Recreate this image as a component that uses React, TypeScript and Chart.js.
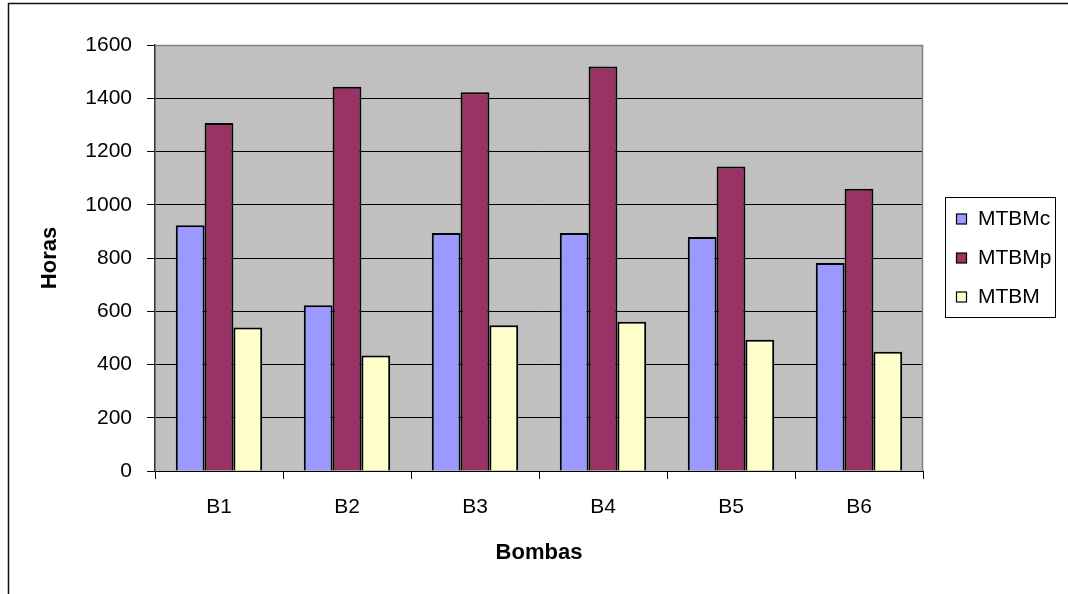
import { useEffect, useRef } from "react";
import { Chart, registerables } from "chart.js";

Chart.register(...registerables);

// Categories (pumps) and the three series in hours
const categories = ["B1", "B2", "B3", "B4", "B5", "B6"];
const mtbmc = [923, 623, 894, 894, 879, 781];
const mtbmp = [1307, 1443, 1423, 1519, 1144, 1060];
const mtbm = [539, 434, 547, 561, 493, 448];
const seriesNames = ["MTBMc", "MTBMp", "MTBM"];
const seriesColors = ["#9999FF", "#993366", "#FFFFCC"];

const yMin = 0;
const yMax = 1600;
const yStep = 200;

const FONT = "'Liberation Sans', Arial, sans-serif";
const TICK_SIZE = 21;
const TITLE_SIZE = 22;

// Gray plot area, its top/right edge and the outer frame
const plotFrame = {
  id: "plotFrame",
  beforeDraw(chart: any) {
    const { ctx, chartArea, width } = chart;
    ctx.save();
    ctx.fillStyle = "#FFFFFF";
    ctx.fillRect(0, 0, chart.width, chart.height);
    ctx.fillStyle = "#C0C0C0";
    ctx.fillRect(chartArea.left, chartArea.top, chartArea.right - chartArea.left, chartArea.bottom - chartArea.top);
    // outer frame: left and top edges
    ctx.strokeStyle = "#111111";
    ctx.lineWidth = 1.5;
    ctx.beginPath();
    ctx.moveTo(8.5, chart.height + 10);
    ctx.lineTo(8.5, 3.5);
    ctx.lineTo(width + 10, 3.5);
    ctx.stroke();
    ctx.restore();
  },
  beforeDatasetsDraw(chart: any) {
    const { ctx, chartArea } = chart;
    ctx.save();
    ctx.strokeStyle = "#808080";
    ctx.lineWidth = 1.5;
    ctx.beginPath();
    ctx.moveTo(chartArea.left, chartArea.top + 0.5);
    ctx.lineTo(chartArea.right - 0.5, chartArea.top + 0.5);
    ctx.lineTo(chartArea.right - 0.5, chartArea.bottom);
    ctx.stroke();
    ctx.restore();
  },
};

// Boxed legend on the right side
const boxLegend = {
  id: "boxLegend",
  afterDraw(chart: any) {
    const { ctx } = chart;
    const x0 = 945;
    const y0 = 197;
    const w = 110;
    const h = 120;
    ctx.save();
    ctx.fillStyle = "#FFFFFF";
    ctx.fillRect(x0, y0, w, h);
    ctx.strokeStyle = "#000000";
    ctx.lineWidth = 1;
    ctx.strokeRect(x0 + 0.5, y0 + 0.5, w, h);
    ctx.font = `${TICK_SIZE}px ${FONT}`;
    ctx.textBaseline = "middle";
    ctx.textAlign = "left";
    chart.data.datasets.forEach((ds: any, i: number) => {
      const cy = 219 + i * 39;
      ctx.fillStyle = ds.backgroundColor;
      ctx.fillRect(956.5, cy - 5, 10, 10);
      ctx.strokeStyle = "#000000";
      ctx.lineWidth = 1.2;
      ctx.strokeRect(956.5, cy - 5, 10, 10);
      ctx.fillStyle = "#000000";
      ctx.fillText(ds.label, 978, cy);
    });
    ctx.restore();
  },
};

export default function App() {
  const canvasRef = useRef<HTMLCanvasElement | null>(null);

  useEffect(() => {
    if (!canvasRef.current) return;
    const seriesData = [mtbmc, mtbmp, mtbm];
    const chart = new Chart(canvasRef.current, {
      type: "bar",
      data: {
        labels: categories,
        datasets: seriesNames.map((name, i) => ({
          label: name,
          data: seriesData[i],
          backgroundColor: seriesColors[i],
          borderColor: "#000000",
          borderWidth: 2,
          barPercentage: 1,
          categoryPercentage: 0.675,
        })),
      },
      options: {
        responsive: false,
        animation: false,
        devicePixelRatio: 1,
        layout: { padding: { top: 45, right: 145, left: 0, bottom: 0 } },
        plugins: {
          legend: { display: false },
          tooltip: { enabled: false },
        },
        scales: {
          x: {
            grid: {
              display: true,
              drawOnChartArea: false,
              drawTicks: true,
              tickLength: 8,
              color: "#000000",
              offset: true,
            },
            border: { display: true, color: "#000000", width: 1 },
            ticks: {
              color: "#000000",
              font: { family: FONT, size: TICK_SIZE },
              padding: 16,
              maxRotation: 0,
            },
            title: {
              display: true,
              text: "Bombas",
              color: "#000000",
              font: { family: FONT, size: TITLE_SIZE, weight: "bold" },
              padding: { top: 0, bottom: 28 },
            },
            afterFit(scale: any) {
              scale.height = 123;
            },
          },
          y: {
            min: yMin,
            max: yMax,
            ticks: {
              stepSize: yStep,
              color: "#000000",
              font: { family: FONT, size: TICK_SIZE },
              padding: 15,
              callback: (v: any) => String(v),
            },
            grid: {
              color: (c: any) => (c.tick && c.tick.value === yMax ? "#808080" : "#000000"),
              tickColor: "#000000",
              lineWidth: 1,
              drawTicks: true,
              tickLength: 8,
            },
            border: { display: true, color: "#333333", width: 1.5 },
            title: {
              display: true,
              text: "Horas",
              color: "#000000",
              font: { family: FONT, size: TITLE_SIZE, weight: "bold" },
              padding: { top: 37, bottom: 0 },
            },
            afterFit(scale: any) {
              scale.width = 155;
            },
          },
        },
      },
      plugins: [plotFrame, boxLegend],
    });
    return () => chart.destroy();
  }, []);

  return (
    <div style={{ position: "fixed", left: 0, top: 0, width: 1068, height: 594, background: "#FFFFFF" }}>
      <canvas ref={canvasRef} width={1068} height={594} style={{ display: "block", width: 1068, height: 594 }} />
    </div>
  );
}
